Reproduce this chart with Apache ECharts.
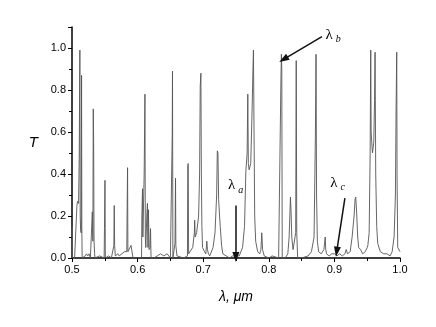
<!DOCTYPE html>
<html>
<head>
<meta charset="utf-8">
<script src="https://cdn.jsdelivr.net/npm/echarts@6/dist/echarts.min.js"></script>
<style>
  html, body { margin: 0; padding: 0; background: #fff; }
  #chart { width: 436px; height: 327px; }
</style>
</head>
<body>
<div id="chart"></div>
<script>
// wavelength, um
const wl = [
    0.5000, 0.5003, 0.5006, 0.5040, 0.5070, 0.5075, 0.5085, 0.5100, 0.5110, 0.5120,
    0.5125, 0.5132, 0.5140, 0.5146, 0.5150, 0.5155, 0.5200, 0.5220, 0.5240, 0.5260,
    0.5280, 0.5305, 0.5310, 0.5318, 0.5324, 0.5330, 0.5336, 0.5345, 0.5350, 0.5420,
    0.5490, 0.5495, 0.5503, 0.5508, 0.5560, 0.5600, 0.5638, 0.5644, 0.5650, 0.5660,
    0.5700, 0.5720, 0.5760, 0.5800, 0.5835, 0.5840, 0.5847, 0.5852, 0.5880, 0.5900,
    0.5925, 0.5930, 0.5960, 0.6000, 0.6060, 0.6065, 0.6075, 0.6080, 0.6090, 0.6100,
    0.6112, 0.6118, 0.6125, 0.6140, 0.6150, 0.6158, 0.6165, 0.6175, 0.6190, 0.6197,
    0.6205, 0.6250, 0.6300, 0.6350, 0.6400, 0.6450, 0.6500, 0.6525, 0.6528, 0.6532,
    0.6538, 0.6570, 0.6578, 0.6583, 0.6600, 0.6700, 0.6760, 0.6765, 0.6771, 0.6778,
    0.6800, 0.6840, 0.6865, 0.6870, 0.6878, 0.6900, 0.6930, 0.6945, 0.6955, 0.6965,
    0.6972, 0.6980, 0.6990, 0.7020, 0.7040, 0.7055, 0.7065, 0.7080, 0.7100, 0.7150,
    0.7180, 0.7205, 0.7215, 0.7225, 0.7235, 0.7250, 0.7260, 0.7280, 0.7300, 0.7350,
    0.7400, 0.7450, 0.7500, 0.7550, 0.7600, 0.7630, 0.7650, 0.7670, 0.7680, 0.7688,
    0.7700, 0.7725, 0.7745, 0.7760, 0.7766, 0.7775, 0.7785, 0.7800, 0.7830, 0.7860,
    0.7880, 0.7893, 0.7905, 0.7930, 0.8000, 0.8050, 0.8150, 0.8180, 0.8185, 0.8192,
    0.8198, 0.8205, 0.8250, 0.8290, 0.8310, 0.8330, 0.8340, 0.8350, 0.8370, 0.8400,
    0.8410, 0.8418, 0.8426, 0.8440, 0.8500, 0.8600, 0.8650, 0.8690, 0.8710, 0.8720,
    0.8728, 0.8740, 0.8760, 0.8800, 0.8840, 0.8860, 0.8868, 0.8880, 0.8920, 0.8960,
    0.9000, 0.9040, 0.9080, 0.9120, 0.9160, 0.9180, 0.9200, 0.9240, 0.9270, 0.9300,
    0.9315, 0.9325, 0.9340, 0.9355, 0.9370, 0.9400, 0.9430, 0.9470, 0.9500, 0.9510,
    0.9530, 0.9545, 0.9554, 0.9560, 0.9580, 0.9600, 0.9612, 0.9620, 0.9630, 0.9645,
    0.9660, 0.9700, 0.9750, 0.9800, 0.9850, 0.9880, 0.9910, 0.9930, 0.9940, 0.9950,
    0.9955, 0.9965, 1.0000
];
// transmission T
const tr = [
    0.00, 0.15, 0.00, 0.00, 0.00, 0.25, 0.27, 0.26, 0.47, 0.99,
    0.20, 0.13, 0.12, 0.87, 0.14, 0.00, 0.01, 0.02, 0.01, 0.02,
    0.00, 0.00, 0.22, 0.08, 0.71, 0.55, 0.08, 0.02, 0.00, 0.01,
    0.00, 0.14, 0.37, 0.00, 0.01, 0.00, 0.06, 0.25, 0.06, 0.01,
    0.02, 0.01, 0.02, 0.03, 0.03, 0.22, 0.43, 0.03, 0.03, 0.06,
    0.06, 0.00, 0.00, 0.00, 0.00, 0.20, 0.33, 0.10, 0.10, 0.40,
    0.78, 0.10, 0.05, 0.20, 0.26, 0.05, 0.23, 0.04, 0.05, 0.14,
    0.00, 0.00, 0.01, 0.02, 0.01, 0.02, 0.00, 0.00, 0.59, 0.89,
    0.00, 0.07, 0.38, 0.06, 0.01, 0.00, 0.01, 0.44, 0.45, 0.02,
    0.02, 0.05, 0.12, 0.18, 0.10, 0.12, 0.20, 0.40, 0.82, 0.88,
    0.40, 0.15, 0.05, 0.03, 0.02, 0.08, 0.04, 0.02, 0.01, 0.05,
    0.12, 0.30, 0.51, 0.50, 0.28, 0.20, 0.15, 0.06, 0.02, 0.01,
    0.00, 0.01, 0.01, 0.01, 0.05, 0.15, 0.41, 0.50, 0.78, 0.45,
    0.42, 0.45, 0.70, 0.92, 0.99, 0.60, 0.20, 0.08, 0.03, 0.02,
    0.04, 0.12, 0.04, 0.01, 0.00, 0.01, 0.00, 0.00, 0.85, 0.97,
    0.90, 0.00, 0.00, 0.02, 0.10, 0.29, 0.22, 0.10, 0.04, 0.04,
    0.12, 0.94, 0.12, 0.00, 0.00, 0.01, 0.03, 0.10, 0.58, 0.97,
    0.30, 0.08, 0.03, 0.02, 0.04, 0.10, 0.04, 0.02, 0.01, 0.02,
    0.02, 0.01, 0.02, 0.01, 0.02, 0.04, 0.02, 0.03, 0.10, 0.20,
    0.28, 0.29, 0.21, 0.10, 0.05, 0.04, 0.02, 0.03, 0.05, 0.06,
    0.12, 0.50, 0.99, 0.60, 0.50, 0.55, 0.75, 0.98, 0.40, 0.15,
    0.07, 0.03, 0.02, 0.02, 0.01, 0.03, 0.10, 0.30, 0.70, 0.98,
    0.40, 0.05, 0.03
];

// annotation arrows [x1, y1, x2, y2] and labels [x, y, sub]
const arrows = [
    [0.7498, 0.25, 0.7498, 0.005],
    [0.881, 1.054, 0.8225, 0.946],
    [0.916, 0.285, 0.9035, 0.03]
];
const notes = [
    [0.7495, 0.345, 'a'],
    [0.898, 1.063, 'b'],
    [0.905, 0.358, 'c']
];

const chart = echarts.init(document.getElementById('chart'));

const pts = wl.map((x, i) => [x, tr[i]]);

const option = {
    animation: false,
    backgroundColor: '#fff',
    grid: { left: 72, right: 36, top: 27, bottom: 69 },
    xAxis: {
        type: 'value',
        min: 0.5, max: 1.0, interval: 0.1,
        name: 'λ, μm',
        nameLocation: 'middle',
        nameGap: 32,
        nameTextStyle: { fontFamily: 'Liberation Sans', fontStyle: 'italic', fontSize: 14, color: '#000' },
        axisLine: { lineStyle: { color: '#000', width: 1.5 } },
        axisTick: { length: 4, lineStyle: { color: '#000', width: 1 } },
        minorTick: { show: true, splitNumber: 2, length: 3, lineStyle: { color: '#000' } },
        axisLabel: {
            color: '#000', fontFamily: 'Liberation Sans', fontSize: 11, margin: 6,
            formatter: v => v.toFixed(1)
        },
        splitLine: { show: false }
    },
    yAxis: {
        type: 'value',
        min: 0, max: 1.1, interval: 0.2,
        name: 'T',
        nameLocation: 'middle',
        nameRotate: 0,
        nameGap: 34,
        nameTextStyle: { fontFamily: 'Liberation Sans', fontStyle: 'italic', fontSize: 15, color: '#000',
                         padding: [16, 0, 0, 0] },
        axisLine: { show: true, lineStyle: { color: '#000', width: 1.5 } },
        axisTick: { show: true, length: 4, lineStyle: { color: '#000', width: 1 } },
        minorTick: { show: true, splitNumber: 2, length: 3, lineStyle: { color: '#000' } },
        axisLabel: {
            color: '#000', fontFamily: 'Liberation Sans', fontSize: 11, margin: 6,
            showMaxLabel: false,
            formatter: v => v.toFixed(1)
        },
        splitLine: { show: false }
    },
    series: [
        {
            type: 'line',
            data: pts,
            showSymbol: false,
            lineStyle: { color: '#555', width: 0.9 },
            markLine: {
                silent: true,
                symbol: ['none', 'triangle'],
                symbolSize: [7, 10],
                lineStyle: { color: '#111', width: 1.5, type: 'solid' },
                label: { show: false },
                data: arrows.map(a => [{ coord: [a[0], a[1]] }, { coord: [a[2], a[3]] }])
            },
            markPoint: {
                silent: true,
                symbol: 'circle',
                symbolSize: 0,
                data: notes.map(n => ({
                    coord: [n[0], n[1]],
                    label: {
                        show: true,
                        position: 'inside',
                        formatter: '{l|λ}{s|' + n[2] + '}',
                        rich: {
                            l: { fontFamily: 'Liberation Serif', fontSize: 15, color: '#000' },
                            s: { fontFamily: 'Liberation Serif', fontStyle: 'italic', fontSize: 10, color: '#000',
                                 padding: [9, 0, 0, 3] }
                        }
                    }
                }))
            }
        }
    ]
};

chart.setOption(option);
</script>
</body>
</html>
